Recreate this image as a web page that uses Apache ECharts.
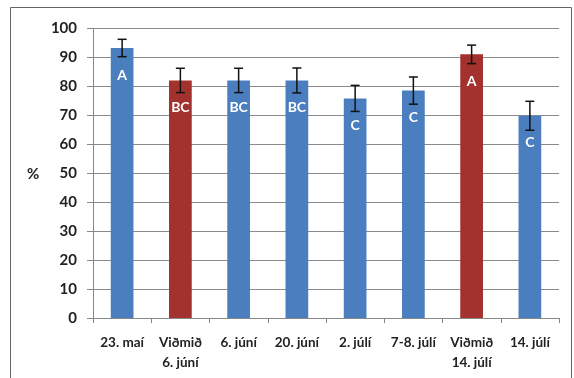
<!DOCTYPE html>
<html><head><meta charset="utf-8">
<script src="https://cdn.jsdelivr.net/npm/echarts@6/dist/echarts.min.js"></script>
<style>html,body{margin:0;padding:0;background:#fff}#c{width:574px;height:378px}</style>
</head><body><div id="c"></div>
<script>
const categories = ['23. maí', 'Viðmið\n6. júní', '6. júní', '20. júní', '2. júlí', '7-8. júlí', 'Viðmið\n14. júlí', '14. júlí'];
const values = [93.2, 82, 82, 82, 75.8, 78.5, 91, 69.8];
const errors = [3.0, 4.2, 4.2, 4.3, 4.5, 4.7, 3.2, 5.0];
const letters = ['A', 'BC', 'BC', 'BC', 'C', 'C', 'A', 'C'];
const isControl = [false, true, false, false, false, false, true, false];
const yTicks = [0, 10, 20, 30, 40, 50, 60, 70, 80, 90, 100];

const BLUE = '#4A7EBF', RED = '#A3322E';
const chart = echarts.init(document.getElementById('c'));
const font = 'Lato, "Open Sans", "DejaVu Sans", sans-serif';
chart.setOption({
  animation: false,
  backgroundColor: '#fff',
  graphic: [{ type: 'rect', shape: { x: 10.5, y: 7.5, width: 561, height: 400 },
    style: { fill: 'none', stroke: '#666', lineWidth: 1 } },
    { type: 'text', left: 27, top: 167, style: { text: '%', font: 'bold 15px ' + font, fill: '#222' } }],
  grid: { left: 93, right: 15, top: 28.3, bottom: 60 },
  xAxis: {
    type: 'category', data: categories,
    axisLine: { lineStyle: { color: '#888' } },
    axisTick: { show: true, length: 5, alignWithLabel: false, lineStyle: { color: '#888' } },
    axisLabel: { color: '#222', fontWeight: 'bold', fontSize: 13.5, fontFamily: font, margin: 15, lineHeight: 20, interval: 0 }
  },
  yAxis: {
    type: 'value', min: yTicks[0], max: yTicks[yTicks.length - 1], interval: 10,
    axisLine: { show: true, lineStyle: { color: '#888' } },
    axisTick: { show: true, length: 6, lineStyle: { color: '#888' } },
    splitLine: { lineStyle: { color: '#8a8a8a', width: 1 } },
    axisLabel: { color: '#222', fontWeight: 'bold', fontSize: 15, fontFamily: font, margin: 16 }
  },
  series: [{
    type: 'bar', barWidth: '39%',
    data: values.map((v, i) => ({ value: v, itemStyle: { color: isControl[i] ? RED : BLUE },
      label: { formatter: letters[i] } })),
    label: { show: true, position: 'insideTop', distance: 20, color: '#fff', fontWeight: 'bold', fontSize: 14, fontFamily: font }
  }, {
    type: 'custom',
    data: values.map((v, i) => [i, v - errors[i], v + errors[i]]),
    renderItem: function (params, api) {
      const x = api.value(0);
      const lo = api.coord([x, api.value(1)]);
      const hi = api.coord([x, api.value(2)]);
      const cap = 4.5;
      const st = { stroke: '#111', lineWidth: 1.5 };
      return { type: 'group', children: [
        { type: 'line', shape: { x1: lo[0], y1: lo[1], x2: hi[0], y2: hi[1] }, style: st },
        { type: 'line', shape: { x1: lo[0] - cap, y1: lo[1], x2: lo[0] + cap, y2: lo[1] }, style: st },
        { type: 'line', shape: { x1: hi[0] - cap, y1: hi[1], x2: hi[0] + cap, y2: hi[1] }, style: st }
      ] };
    },
    z: 10
  }]
});
</script></body></html>
